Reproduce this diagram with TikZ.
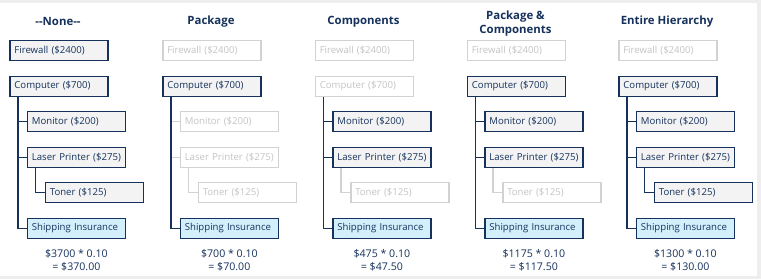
\documentclass[tikz,border=0pt]{standalone}
\usepackage{fontspec}
\setmainfont{Open Sans}
\begin{document}
\definecolor{navy}{HTML}{16325C}
\definecolor{boxfill}{HTML}{F3F3F3}
\definecolor{shipfill}{HTML}{D3EFFB}
\definecolor{fade}{HTML}{D2D2D2}
\definecolor{fadetext}{HTML}{C4C4C4}
\definecolor{frame}{HTML}{EEEEEF}
\begin{tikzpicture}[x=1pt,y=-1pt,
  item/.style={rectangle, anchor=north west, minimum height=20pt,
    inner xsep=4.5pt, inner ysep=0pt, text width=89pt, align=left,
    font=\fontsize{9.6}{11}\selectfont, line width=1.8pt},
  boxon/.style={item, draw=navy, fill=boxfill, text=navy},
  boxoff/.style={item, draw=fade, fill=white, text=fadetext, line width=1.5pt},
  shipbox/.style={item, draw=navy, fill=shipfill, text=navy},
  lineon/.style={draw=navy, line width=1.8pt},
  lineoff/.style={draw=fade, line width=1.5pt},
  heading/.style={font=\fontsize{11.4}{14}\selectfont\bfseries, text=navy, align=center},
  formula/.style={font=\fontsize{10.6}{12.5}\selectfont, text=navy, align=center}]
% page frame
\fill[frame] (0,0) rectangle (761,279);
\fill[white] (0,3) rectangle (757,276);
\useasboundingbox (0,0) rectangle (761,279);
% one column per allocation mode: box styles, then branch styles
\foreach \i/\ox/\ty/\title/\fw/\cp/\mn/\lp/\tn/\sm/\sl/\st/\calc in {
  1/9/21.3/{{-}{-}None{-}{-}}/boxon/boxon/boxon/boxon/boxon/lineon/lineon/lineon/{\$3700 * 0.10\\= \$370.00},
  2/162/21.3/{Package}/boxoff/boxon/boxoff/boxoff/boxoff/lineoff/lineoff/lineoff/{\$700 * 0.10\\= \$70.00},
  3/314.5/21.3/{Components}/boxoff/boxoff/boxon/boxon/boxoff/lineon/lineon/lineoff/{\$475 * 0.10\\= \$47.50},
  4/466.5/23.3/{Package \&\\Components}/boxoff/boxon/boxon/boxon/boxoff/lineon/lineon/lineoff/{\$1175 * 0.10\\= \$117.50},
  5/618/21.3/{Entire Hierarchy}/boxoff/boxon/boxon/boxon/boxon/lineon/lineon/lineon/{\$1300 * 0.10\\= \$130.00}}
{
  \begin{scope}[xshift=\ox]
    \node[\fw] (fw\i) at (0,39.5) {Firewall (\$2400)};
    \node[\cp] (cp\i) at (0,75.5) {Computer (\$700)};
    \node[\mn] (mn\i) at (17.5,110.5) {Monitor (\$200)};
    \node[\lp] (lp\i) at (17.5,146.5) {Laser Printer (\$275)};
    \node[\tn] (tn\i) at (35.5,181.5) {Toner (\$125)};
    \node[shipbox] (sh\i) at (17.5,217.5) {Shipping Insurance};
    \node[heading] (hd\i) at (49,\ty) {\title};
    \node[formula, anchor=north] (fm\i) at ([yshift=-7pt]sh\i.south) {\calc};
    % tree connectors
    \coordinate (tk\i) at ([xshift=9pt]cp\i.south west);
    \coordinate (tl\i) at ([xshift=9pt]lp\i.south west);
    \path[\sm] (tk\i |- mn\i.west) -- (mn\i.west);
    \path[\sl] (tk\i |- lp\i.west) -- (lp\i.west);
    \path[\st] (tl\i) |- (tn\i.west);
    \path[lineon] (tk\i) |- (sh\i.west);
  \end{scope}
}
\end{tikzpicture}
\end{document}
